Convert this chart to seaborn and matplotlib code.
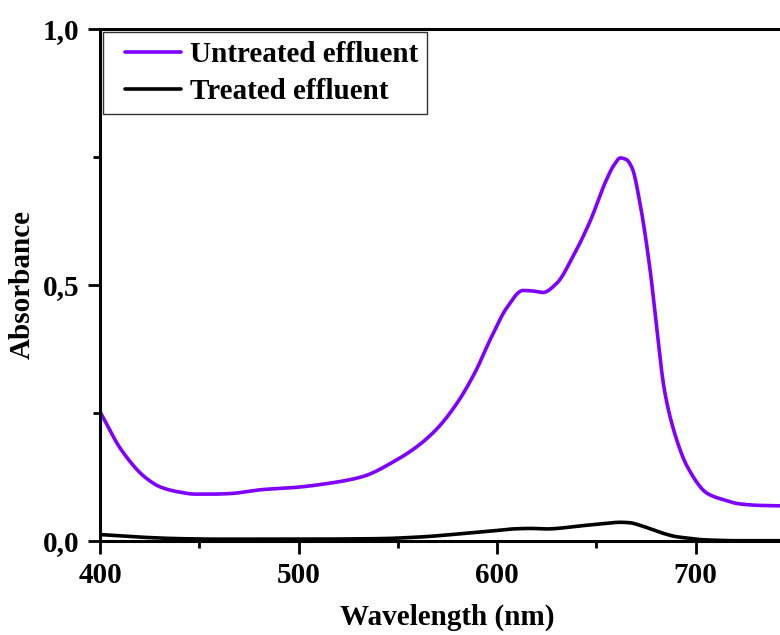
import numpy as np
import pandas as pd
import matplotlib
matplotlib.use("Agg")
import matplotlib.pyplot as plt
from matplotlib.ticker import MultipleLocator, FuncFormatter
import seaborn as sns

# Data
wl_untreated = [400, 411, 423, 431, 440, 448, 456, 465, 482, 498, 515, 532, 549, 560, 570,
                580, 589, 597, 605, 613, 618, 623, 630, 638, 647, 655, 659, 662, 665, 668,
                672, 677, 680, 684, 689, 696, 706, 714, 722, 732, 745]
abs_untreated = [0.252, 0.176, 0.123, 0.104, 0.095, 0.091, 0.091, 0.092, 0.100, 0.104, 0.112,
                 0.125, 0.157, 0.185, 0.220, 0.270, 0.330, 0.397, 0.456, 0.489, 0.488, 0.485,
                 0.503, 0.554, 0.626, 0.705, 0.735, 0.748, 0.745, 0.728, 0.658, 0.530, 0.43,
                 0.30, 0.215, 0.143, 0.092, 0.080, 0.072, 0.069, 0.068]

wl_treated = [400, 420, 440, 460, 500, 540, 560, 583, 600, 608, 617, 625, 642, 655, 662, 667,
              672, 678, 684, 690, 696, 703, 709, 720, 745]
abs_treated = [0.012, 0.007, 0.004, 0.003, 0.003, 0.004, 0.007, 0.014, 0.020, 0.023, 0.024,
               0.023, 0.029, 0.034, 0.036, 0.035, 0.030, 0.022, 0.014, 0.008, 0.005, 0.002,
               0.001, 0.000, 0.000]

labels = ["Untreated effluent", "Treated effluent"]
colors = ["#8000FF", "#000000"]

df = pd.concat([
    pd.DataFrame({"Wavelength": wl_untreated, "Absorbance": abs_untreated, "Sample": labels[0]}),
    pd.DataFrame({"Wavelength": wl_treated, "Absorbance": abs_treated, "Sample": labels[1]}),
])

sns.set_theme(style="ticks")
plt.rcParams["font.family"] = ["Liberation Serif", "DejaVu Serif"]
plt.rcParams["font.weight"] = "bold"
for k in ["text.color", "axes.labelcolor", "xtick.color", "ytick.color", "axes.edgecolor"]:
    plt.rcParams[k] = "black"

fig = plt.figure(figsize=(7.8, 6.35), dpi=100)
ax = fig.add_axes([100 / 780, 1 - 540.7 / 635, 695 / 780, (540.7 - 29) / 635])


# smooth display curves through the read points (monotone cubic Hermite)
def smooth(x, y, n=800):
    x = np.asarray(x, float); y = np.asarray(y, float)
    xs = np.linspace(x.min(), x.max(), n)
    h = np.diff(x); d = np.diff(y) / h
    m = np.zeros_like(y)
    m[0], m[-1] = d[0], d[-1]
    for i in range(1, len(y) - 1):
        if d[i - 1] * d[i] <= 0:
            m[i] = 0
        else:
            w1 = 2 * h[i] + h[i - 1]; w2 = h[i] + 2 * h[i - 1]
            m[i] = (w1 + w2) / (w1 / d[i - 1] + w2 / d[i])
    idx = np.clip(np.searchsorted(x, xs) - 1, 0, len(x) - 2)
    t = (xs - x[idx]) / h[idx]
    h00 = 2 * t**3 - 3 * t**2 + 1; h10 = t**3 - 2 * t**2 + t
    h01 = -2 * t**3 + 3 * t**2; h11 = t**3 - t**2
    ys = h00 * y[idx] + h10 * h[idx] * m[idx] + h01 * y[idx + 1] + h11 * h[idx] * m[idx + 1]
    return xs, ys


parts = []
for lab in labels:
    sub = df[df["Sample"] == lab]
    xs, ys = smooth(sub["Wavelength"], sub["Absorbance"])
    parts.append(pd.DataFrame({"Wavelength": xs, "Absorbance": ys, "Sample": lab}))
dfs = pd.concat(parts)

sns.lineplot(data=dfs, x="Wavelength", y="Absorbance", hue="Sample", hue_order=labels,
             palette=colors, linewidth=2.6, ax=ax, sort=False)

ax.set_xlim(400, 750)
ax.set_ylim(0, 1.0)
ax.xaxis.set_major_locator(MultipleLocator(100))
ax.xaxis.set_minor_locator(MultipleLocator(50))
ax.yaxis.set_major_locator(MultipleLocator(0.5))
ax.yaxis.set_minor_locator(MultipleLocator(0.25))
ax.yaxis.set_major_formatter(FuncFormatter(lambda v, p: f"{v:.1f}".replace(".", ",")))
ax.tick_params(which="major", direction="out", length=9, width=2, labelsize=21, pad=6)
ax.tick_params(which="minor", direction="out", length=5, width=2)
for lab in ax.get_xticklabels() + ax.get_yticklabels():
    lab.set_fontweight("bold")
for s in ax.spines.values():
    s.set_linewidth(2.2)
    s.set_visible(True)

ax.set_xlabel("Wavelength (nm)", fontsize=21, fontweight="bold", labelpad=11)
ax.set_ylabel("Absorbance", fontsize=21, fontweight="bold", labelpad=0)
ax.yaxis.set_label_coords(-64 / 695, 0.5)

leg = ax.legend(loc="upper left", bbox_to_anchor=(3 / 695, 1 - 3 / 511.7), fontsize=21,
                frameon=True, fancybox=False, handlelength=2.38, borderpad=0.3,
                labelspacing=0.35, handletextpad=0.3, borderaxespad=0.0)
leg.get_frame().set_edgecolor("black")
leg.get_frame().set_linewidth(1.0)
for t in leg.get_texts():
    t.set_fontweight("bold")
for l in leg.get_lines():
    l.set_linewidth(2.6)
    xd = np.asarray(l.get_xdata(), float)
    l.set_xdata([xd[0] + (xd[-1] - xd[0]) * 0.19, xd[-1]])
    l.set_ydata([l.get_ydata()[0]] * 2)

fig.savefig("out.png", dpi=100)
